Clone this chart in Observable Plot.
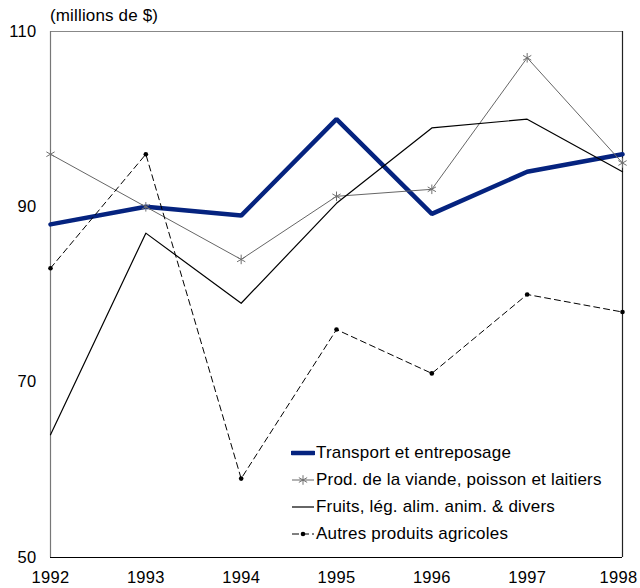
<!DOCTYPE html>
<html><head><meta charset="utf-8">
<script src="https://cdn.jsdelivr.net/npm/d3@7"></script>
<script src="https://cdn.jsdelivr.net/npm/@observablehq/plot@0.6"></script>
<style>
body{margin:0;font-family:"Liberation Sans",Arial,sans-serif;background:#fff;color:#000}
#wrap{position:relative;width:640px;height:588px}
#unit{position:absolute;left:50px;top:6px;font-size:17px;line-height:20px;letter-spacing:0.15px}
#legend{position:absolute;left:291px;top:440px;font-size:17px;letter-spacing:0.2px}
.row{display:flex;align-items:center;height:26.8px;white-space:nowrap}
.row svg{margin-right:1px}
svg text{letter-spacing:0.3px}
</style></head>
<body>
<div id="wrap"><div id="unit">(millions de $)</div><div id="legend"></div></div>
<script>
const years = [1992, 1993, 1994, 1995, 1996, 1997, 1998];
const yTicks = [50, 70, 90, 110];
const transport = [88, 90, 89, 100, 89.2, 94, 96];
const viande = [96, 90, 84, 91.2, 92, 107, 95];
const fruits = [64, 87, 79, 90.4, 99, 100, 94];
const autres = [83, 96, 59, 76, 71, 80, 78];
const seriesNames = ["Transport et entreposage", "Prod. de la viande, poisson et laitiers", "Fruits, lég. alim. anim. & divers", "Autres produits agricoles"];

const X = (d, i) => years[i];
const Y = d => d;
const blue = "#05237f";
const lastYear = years[years.length - 1];

const chart = Plot.plot({
  width: 640, height: 588,
  marginLeft: 50, marginRight: 18, marginTop: 31, marginBottom: 31,
  style: {fontFamily: "Liberation Sans, Arial, sans-serif", fontSize: "16px", color: "#000", background: "#fff"},
  x: {type: "linear", domain: [years[0], lastYear]},
  y: {domain: [yTicks[0], yTicks[yTicks.length - 1]]},
  marks: [
    Plot.ruleY([yTicks[yTicks.length - 1]], {stroke: "#888", strokeWidth: 1}),
    Plot.ruleX([years[0]], {stroke: "#777", strokeWidth: 1.2}),
    Plot.ruleY([yTicks[0]], {stroke: "#000", strokeWidth: 1.2}),
    Plot.ruleX([lastYear], {stroke: "#222", strokeWidth: 1.2}),
    Plot.line(transport, {x: X, y: Y, stroke: blue, strokeWidth: 4.5, strokeLinejoin: "miter"}),
    Plot.line(viande, {x: X, y: Y, stroke: "#666", strokeWidth: 1}),
    Plot.dot(viande, {x: X, y: Y, symbol: "asterisk", r: 4.5, stroke: "#707070", strokeWidth: 1}),
    Plot.line(fruits, {x: X, y: Y, stroke: "#000", strokeWidth: 1.2}),
    Plot.line(autres, {x: X, y: Y, stroke: "#000", strokeWidth: 1, strokeDasharray: "6,4"}),
    Plot.dot(autres, {x: X, y: Y, r: 2.3, fill: "#000", stroke: "none"}),
    Plot.axisY({ticks: yTicks, tickSize: 0, tickPadding: 14, label: null, fontSize: 16.5}),
    Plot.axisX({ticks: years.slice(0, -1), tickFormat: d => String(d), tickSize: 0, tickPadding: 14, label: null, fontSize: 16.5}),
    Plot.axisX({ticks: [lastYear], tickFormat: d => String(d), tickSize: 0, tickPadding: 14, label: null, fontSize: 16.5, dx: -4})
  ]
});
document.getElementById("wrap").appendChild(chart);

// legend
const styles = [
  {stroke: blue, width: 4.5},
  {stroke: "#666", width: 1, star: true},
  {stroke: "#000", width: 1.2},
  {stroke: "#000", width: 1, dash: "7,3", dot: true}
];
const legend = d3.select("#legend");
seriesNames.forEach((name, i) => {
  const s = styles[i];
  const row = legend.append("div").attr("class", "row");
  const svg = row.append("svg").attr("width", 24).attr("height", 14);
  svg.append("line").attr("x1", 1).attr("x2", 23).attr("y1", 7).attr("y2", 7)
    .attr("stroke", s.stroke).attr("stroke-width", s.width)
    .attr("stroke-linecap", i === 0 ? "round" : "butt")
    .attr("stroke-dasharray", s.dash || null);
  if (s.star) svg.append("path").attr("d", d3.symbol(d3.symbolAsterisk, 64)()).attr("transform", "translate(12,7)").attr("stroke", "#707070").attr("fill", "none");
  if (s.dot) svg.append("circle").attr("cx", 12).attr("cy", 7).attr("r", 2.3).attr("fill", "#000");
  row.append("span").text(name);
});
</script>
</body></html>
